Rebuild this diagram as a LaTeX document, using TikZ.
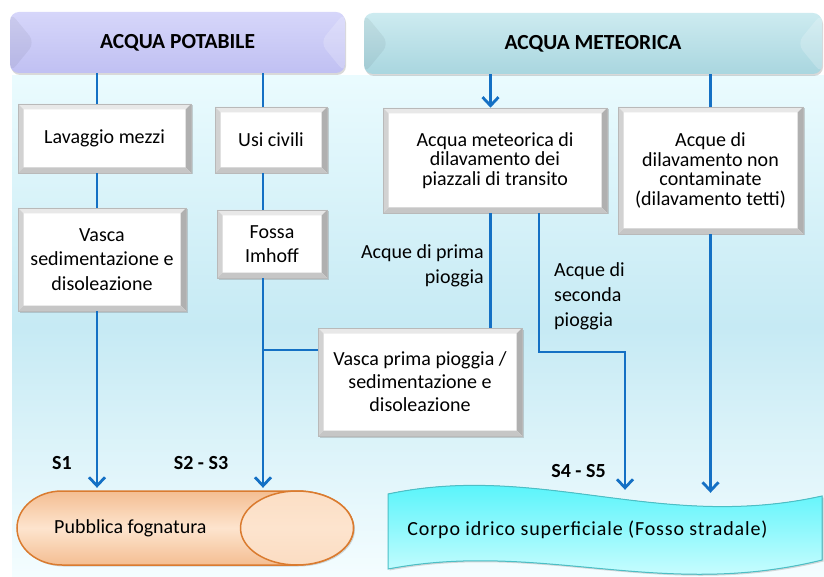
\documentclass[tikz,border=0pt]{standalone}
\usepackage{fontspec}
\setmainfont{Carlito}
\usetikzlibrary{calc,shadows,arrows.meta}

\definecolor{flowblue}{HTML}{1470C4}
\definecolor{bgTop}{HTML}{EAFBFE}
\definecolor{bgMid}{HTML}{C6EAF4}
\definecolor{bgBot}{HTML}{F4FDFF}
\definecolor{potTop}{HTML}{D6D6FA}
\definecolor{potBot}{HTML}{C0C0F2}
\definecolor{metTop}{HTML}{CDEBF0}
\definecolor{metBot}{HTML}{A9D6DF}
\definecolor{fognaEdge}{HTML}{DA7B2F}
\definecolor{fognaLight}{HTML}{FDE4CE}
\definecolor{fognaDark}{HTML}{F4BE92}
\definecolor{waterTop}{HTML}{3EF2FA}
\definecolor{waterBot}{HTML}{E6FFFF}
\definecolor{waterEdge}{HTML}{4BBFC6}

\begin{document}
\begin{tikzpicture}[x=1pt,y=1pt,yscale=-1,xscale=1,
  conn/.style={draw=flowblue, line width=2.8pt},
  arrow/.style={conn, -{Straight Barb[length=8.5pt,width=16pt]}, shorten >=3pt},
  head/.style={rounded corners=9pt, inner sep=0pt, font=\fontsize{21.5}{25}\bfseries,
    drop shadow={shadow xshift=1pt, shadow yshift=-2pt, opacity=.3},
    path picture={
      \fill[black, opacity=.05] (path picture bounding box.north west) -- ($(path picture bounding box.west)!25pt!(path picture bounding box.east)$) -- (path picture bounding box.south west) -- cycle;
      \fill[white, opacity=.2] (path picture bounding box.north east) -- ($(path picture bounding box.east)!25pt!(path picture bounding box.west)$) -- (path picture bounding box.south east) -- cycle;
    }},
  bevel/.style={fill=white, draw=gray!55, line width=0.6pt, align=center, inner sep=0pt,
    font=\fontsize{20}{24.5}\selectfont,
    drop shadow={shadow xshift=1.5pt, shadow yshift=-1.5pt, opacity=.35},
    path picture={
      \path ($(path picture bounding box.west)!5.5pt!(path picture bounding box.east)$) coordinate (bw)
            ($(path picture bounding box.east)!5.5pt!(path picture bounding box.west)$) coordinate (be)
            ($(path picture bounding box.north)!5.5pt!(path picture bounding box.south)$) coordinate (bn)
            ($(path picture bounding box.south)!5.5pt!(path picture bounding box.north)$) coordinate (bs);
      \fill[gray!18] (path picture bounding box.north west) -- (path picture bounding box.north east) -- (be |- bn) -- (bw |- bn) -- cycle;
      \fill[gray!35] (path picture bounding box.north west) -- (bw |- bn) -- (bw |- bs) -- (path picture bounding box.south west) -- cycle;
      \fill[gray!62] (path picture bounding box.north east) -- (be |- bn) -- (be |- bs) -- (path picture bounding box.south east) -- cycle;
      \fill[gray!45] (path picture bounding box.south west) -- (bw |- bs) -- (be |- bs) -- (path picture bounding box.south east) -- cycle;
    }},
  tight/.style={font=\fontsize{20}{19.5}\selectfont},
  lbl/.style={inner sep=0pt, font=\fontsize{20}{25}\selectfont},
  slbl/.style={inner sep=0pt, font=\fontsize{20}{24}\bfseries}]
\useasboundingbox (0,0) rectangle (824,577);

%Shape: Background
\fill[top color=bgTop, bottom color=bgBot, middle color=bgMid] (12,76) rectangle (824,577);

%Shape: Headers
\node[head, top color=potTop, bottom color=potBot, minimum width=335, minimum height=61] (pot) at (177.5,42.5) {ACQUA POTABILE};
\node[head, top color=metTop, bottom color=metBot, minimum width=458, minimum height=61] (met) at (593,43.5) {ACQUA METEORICA};

%Shape: Boxes
\node[bevel, minimum width=173, minimum height=69] (lav) at (104.5,138.5) {Lavaggio mezzi};
\node[bevel, minimum width=112, minimum height=66] (usi) at (271,140) {Usi civili};
\node[bevel, minimum width=168, minimum height=103] (vsed) at (102,259.5) {Vasca\\sedimentazione e\\disoleazione};
\node[bevel, minimum width=110, minimum height=68] (imh) at (272,244) {Fossa\\Imhoff};
\node[bevel, tight, minimum width=224, minimum height=105] (piaz) at (495,160.5) {Acqua meteorica di\\dilavamento dei\\piazzali di transito};
\node[bevel, tight, minimum width=185, minimum height=127] (tetti) at (710.5,170.5) {Acque di\\dilavamento non\\contaminate\\(dilavamento tetti)};
\node[bevel, font=\fontsize{20}{23}\selectfont, minimum width=204, minimum height=108] (vpp) at (420,382) {Vasca prima pioggia /\\sedimentazione e\\disoleazione};

%Shape: Pubblica fognatura
\filldraw[draw=fognaEdge, line width=1.5pt, top color=fognaDark, bottom color=fognaDark, middle color=fognaLight,
  drop shadow={shadow xshift=1.5pt, shadow yshift=-1.5pt, opacity=.3}]
  (62,491) -- (297,491) arc[start angle=-90, end angle=90, x radius=56.5, y radius=37]
  -- (62,565) arc[start angle=90, end angle=270, x radius=45, y radius=37] -- cycle;
\draw[draw=fognaEdge, line width=1.5pt, top color=fognaLight!85!fognaDark, bottom color=fognaLight!80!fognaDark, middle color=fognaLight] (297,528) ellipse[x radius=56.5, y radius=37];

%Shape: Corpo idrico
\filldraw[draw=waterEdge, line width=1pt, top color=waterTop, bottom color=waterBot,
  drop shadow={shadow xshift=1.5pt, shadow yshift=-1.5pt, opacity=.3}]
  (388,494) .. controls (540,462) and (660,532) .. (822,496) -- (822,560)
  .. controls (660,600) and (540,540) .. (388,569) -- cycle;

% Text Node
\node[lbl, anchor=west, minimum height=74] (fog) at (54,528) {Pubblica fognatura};
% Text Node
\node[lbl, minimum height=74] (corpo) at (587.5,530) {\addfontfeature{LetterSpace=4.3}Corpo idrico superficiale (Fosso stradale)};
% Text Node
\node[lbl, anchor=east, align=right] (prima) at (484,265.5) {Acque di prima\\pioggia};
% Text Node
\node[lbl, anchor=west, align=left] (seconda) at (554,296) {Acque di\\seconda\\pioggia};
% Text Node
\node[slbl] (s1) at (62,463) {S1};
% Text Node
\node[slbl] (s23) at (201,463) {S2 - S3};
% Text Node
\node[slbl] (s45) at (578.5,471) {S4 - S5};

%Straight Lines
\coordinate (c1) at (97,0);
\coordinate (c2) at (263,0);
\coordinate (c3) at (490.5,0);
\coordinate (c4) at (539,0);
\coordinate (j1) at (263,350);
\coordinate (k1) at (625,352);

\draw[conn] (pot.south -| c1) -- (lav.north -| c1);
\draw[conn] (lav.south -| c1) -- (vsed.north -| c1);
\draw[arrow] (vsed.south -| c1) -- (fog.north -| c1);
\draw[conn] (pot.south -| c2) -- (usi.north -| c2);
\draw[conn] (usi.south -| c2) -- (imh.north -| c2);
\draw[arrow] (imh.south -| c2) -- (fog.north -| c2);
\draw[conn] (vpp.west |- j1) -- (j1);
\draw[arrow, shorten >=0pt] (met.south -| c3) -- (piaz.north -| c3);
\draw[conn] (piaz.south -| c3) -- (vpp.north -| c3);
\draw[arrow] (piaz.south -| c4) |- (k1) -- (corpo.north -| k1);
\draw[conn] (met.south -| tetti.north) -- (tetti.north);
\draw[arrow, shorten >=0pt] (tetti.south) -- (corpo.north -| tetti.south);

\end{tikzpicture}
\end{document}
